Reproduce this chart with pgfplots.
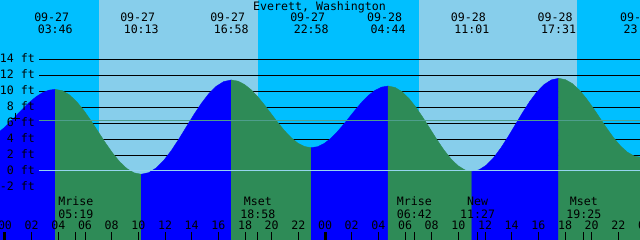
\documentclass[border=0pt]{standalone}
\usepackage{fontspec}
\setmainfont{DejaVu Sans Mono}
\usepackage{pgfplots}
\pgfplotsset{compat=1.18}
\definecolor{night}{RGB}{0,191,255}
\definecolor{day}{RGB}{135,206,235}
\definecolor{flood}{RGB}{0,0,255}
\definecolor{ebb}{RGB}{46,139,87}
\definecolor{msl}{RGB}{78,158,140}
\definecolor{datum}{RGB}{150,212,240}
\begin{document}
\begin{tikzpicture}[lbl/.style={inner sep=0pt, font=\fontsize{11.6}{13}\selectfont}]
\useasboundingbox (0,0) rectangle (640pt,240pt);
\clip (0,0) rectangle (640pt,240pt);
\begin{axis}[at={(0,0)}, anchor=south west, width=640pt, height=240pt, scale only axis,
  xmin=-0.375, xmax=47.625, ymin=-8.66, ymax=21.46, hide axis, clip=true]
% night background and day bands
\addplot[fill=night, draw=none] coordinates {(-1,-10) (-1,23) (49,23) (49,-10)};
\addplot[fill=day, draw=none] coordinates {(7.05,-10) (7.05,23) (18.95,23) (18.95,-10)};
\addplot[fill=day, draw=none] coordinates {(31.05,-10) (31.05,23) (42.88,23) (42.88,-10)};
% height lines
\draw[black, line width=1pt] (2.55,14) -- (48,14);
\draw[black, line width=1pt] (2.55,12) -- (48,12);
\draw[black, line width=1pt] (2.55,10) -- (48,10);
\draw[black, line width=1pt] (2.55,8) -- (48,8);
\draw[black, line width=1pt] (2.55,6) -- (48,6);
\draw[black, line width=1pt] (2.55,4) -- (48,4);
\draw[black, line width=1pt] (2.55,2) -- (48,2);
% tide: rising (flood) and falling (ebb)
\addplot[fill=flood, draw=flood, line width=0.4pt] coordinates {(-2.000,-10) (-2.000,3.80) (-1.519,3.91) (-1.039,4.23) (-0.558,4.74) (-0.078,5.41) (0.403,6.19) (0.884,7.03) (1.364,7.86) (1.845,8.64) (2.325,9.31) (2.806,9.82) (3.286,10.14) (3.767,10.25) (3.767,-10)};
\addplot[fill=ebb, draw=ebb, line width=0.4pt] coordinates {(3.767,-10) (3.767,10.25) (4.304,10.07) (4.842,9.54) (5.379,8.69) (5.917,7.59) (6.454,6.30) (6.992,4.92) (7.529,3.54) (8.067,2.26) (8.604,1.15) (9.142,0.30) (9.679,-0.23) (10.217,-0.41) (10.217,-10)};
\addplot[fill=flood, draw=flood, line width=0.4pt] coordinates {(10.217,-10) (10.217,-0.41) (10.779,-0.21) (11.342,0.38) (11.904,1.32) (12.467,2.55) (13.029,3.97) (13.592,5.51) (14.154,7.04) (14.717,8.46) (15.279,9.69) (15.842,10.63) (16.404,11.22) (16.967,11.42) (16.967,-10)};
\addplot[fill=ebb, draw=ebb, line width=0.4pt] coordinates {(16.967,-10) (16.967,11.42) (17.467,11.28) (17.967,10.85) (18.467,10.18) (18.967,9.30) (19.467,8.27) (19.967,7.17) (20.467,6.07) (20.967,5.05) (21.467,4.17) (21.967,3.49) (22.467,3.07) (22.967,2.92) (22.967,-10)};
\addplot[fill=flood, draw=flood, line width=0.4pt] coordinates {(22.967,-10) (22.967,2.92) (23.447,3.05) (23.928,3.44) (24.409,4.05) (24.889,4.86) (25.370,5.79) (25.850,6.79) (26.331,7.79) (26.811,8.73) (27.292,9.53) (27.773,10.14) (28.253,10.53) (28.733,10.66) (28.733,-10)};
\addplot[fill=ebb, draw=ebb, line width=0.4pt] coordinates {(28.733,-10) (28.733,10.66) (29.257,10.48) (29.780,9.94) (30.304,9.09) (30.828,7.98) (31.351,6.69) (31.875,5.31) (32.399,3.92) (32.922,2.63) (33.446,1.52) (33.970,0.67) (34.493,0.13) (35.017,-0.05) (35.017,-10)};
\addplot[fill=flood, draw=flood, line width=0.4pt] coordinates {(35.017,-10) (35.017,-0.05) (35.558,0.15) (36.100,0.73) (36.642,1.66) (37.183,2.87) (37.725,4.28) (38.267,5.79) (38.808,7.30) (39.350,8.71) (39.892,9.92) (40.433,10.85) (40.975,11.43) (41.517,11.63) (41.517,-10)};
\addplot[fill=ebb, draw=ebb, line width=0.4pt] coordinates {(41.517,-10) (41.517,11.63) (42.032,11.46) (42.548,10.97) (43.063,10.18) (43.578,9.15) (44.094,7.95) (44.609,6.67) (45.125,5.38) (45.640,4.18) (46.155,3.15) (46.671,2.37) (47.186,1.87) (47.700,1.70) (47.700,-10)};
% mean level and datum lines
\draw[msl, line width=1pt] (2.55,6.36) -- (48,6.36);
\draw[datum, line width=1pt] (2.55,0) -- (48,0);
\draw[black, line width=1pt] (0.45,6.65) -- (1.125,6.65);
\draw[black, line width=1pt] (0.75,7.32) -- (0.75,6.26);
% bottom ticks
\pgfplotsinvokeforeach{2,4,6,8,10,12,14,16,18,20,22,26,28,30,32,34,36,38,40,42,44,46}{
  \draw[black, line width=1pt] (#1,-8.8) -- (#1,-7.65);
}
\pgfplotsinvokeforeach{5.317,18.967,30.7,35.45,43.417}{
  \draw[black, line width=1pt] (#1,-8.8) -- (#1,-7.65);
}
\draw[black, line width=3pt] (0,-8.8) -- (0,-7.65);
\draw[black, line width=3pt] (24,-8.8) -- (24,-7.65);
% hour labels
\node[lbl, anchor=base] at (0,-7.31) {00};
\node[lbl, anchor=base] at (2,-7.31) {02};
\node[lbl, anchor=base] at (4,-7.31) {04};
\node[lbl, anchor=base] at (6,-7.31) {06};
\node[lbl, anchor=base] at (8,-7.31) {08};
\node[lbl, anchor=base] at (10,-7.31) {10};
\node[lbl, anchor=base] at (12,-7.31) {12};
\node[lbl, anchor=base] at (14,-7.31) {14};
\node[lbl, anchor=base] at (16,-7.31) {16};
\node[lbl, anchor=base] at (18,-7.31) {18};
\node[lbl, anchor=base] at (20,-7.31) {20};
\node[lbl, anchor=base] at (22,-7.31) {22};
\node[lbl, anchor=base] at (24,-7.31) {00};
\node[lbl, anchor=base] at (26,-7.31) {02};
\node[lbl, anchor=base] at (28,-7.31) {04};
\node[lbl, anchor=base] at (30,-7.31) {06};
\node[lbl, anchor=base] at (32,-7.31) {08};
\node[lbl, anchor=base] at (34,-7.31) {10};
\node[lbl, anchor=base] at (36,-7.31) {12};
\node[lbl, anchor=base] at (38,-7.31) {14};
\node[lbl, anchor=base] at (40,-7.31) {16};
\node[lbl, anchor=base] at (42,-7.31) {18};
\node[lbl, anchor=base] at (44,-7.31) {20};
\node[lbl, anchor=base] at (46,-7.31) {22};
\node[lbl, anchor=base] at (48,-7.31) {00};
% moon events
\node[lbl, anchor=base] at (5.317,-4.35) {Mrise};
\node[lbl, anchor=base] at (5.317,-5.93) {05:19};
\node[lbl, anchor=base] at (18.967,-4.35) {Mset};
\node[lbl, anchor=base] at (18.967,-5.93) {18:58};
\node[lbl, anchor=base] at (30.7,-4.35) {Mrise};
\node[lbl, anchor=base] at (30.7,-5.93) {06:42};
\node[lbl, anchor=base] at (35.45,-4.35) {New};
\node[lbl, anchor=base] at (35.45,-5.93) {11:27};
\node[lbl, anchor=base] at (43.417,-4.35) {Mset};
\node[lbl, anchor=base] at (43.417,-5.93) {19:25};
% height labels
\node[lbl, anchor=base east] at (2.25,13.57) {14 ft};
\node[lbl, anchor=base east] at (2.25,11.57) {12 ft};
\node[lbl, anchor=base east] at (2.25,9.57) {10 ft};
\node[lbl, anchor=base east] at (2.25,7.57) {8 ft};
\node[lbl, anchor=base east] at (2.25,5.57) {6 ft};
\node[lbl, anchor=base east] at (2.25,3.57) {4 ft};
\node[lbl, anchor=base east] at (2.25,1.57) {2 ft};
\node[lbl, anchor=base east] at (2.25,-0.43) {0 ft};
\node[lbl, anchor=base east] at (2.25,-2.43) {-2 ft};
% title and tide events
\node[lbl, anchor=base] at (23.59,20.20) {Everett, Washington};
\node[lbl, anchor=base] at (3.504,18.73) {09-27};
\node[lbl, anchor=base] at (3.767,17.31) {03:46};
\node[lbl, anchor=base] at (9.954,18.73) {09-27};
\node[lbl, anchor=base] at (10.217,17.31) {10:13};
\node[lbl, anchor=base] at (16.704,18.73) {09-27};
\node[lbl, anchor=base] at (16.967,17.31) {16:58};
\node[lbl, anchor=base] at (22.704,18.73) {09-27};
\node[lbl, anchor=base] at (22.967,17.31) {22:58};
\node[lbl, anchor=base] at (28.470,18.73) {09-28};
\node[lbl, anchor=base] at (28.733,17.31) {04:44};
\node[lbl, anchor=base] at (34.754,18.73) {09-28};
\node[lbl, anchor=base] at (35.017,17.31) {11:01};
\node[lbl, anchor=base] at (41.254,18.73) {09-28};
\node[lbl, anchor=base] at (41.517,17.31) {17:31};
\node[lbl, anchor=base] at (47.437,18.73) {09-28};
\node[lbl, anchor=base] at (47.700,17.31) {23:40};
\end{axis}
\end{tikzpicture}
\end{document}
